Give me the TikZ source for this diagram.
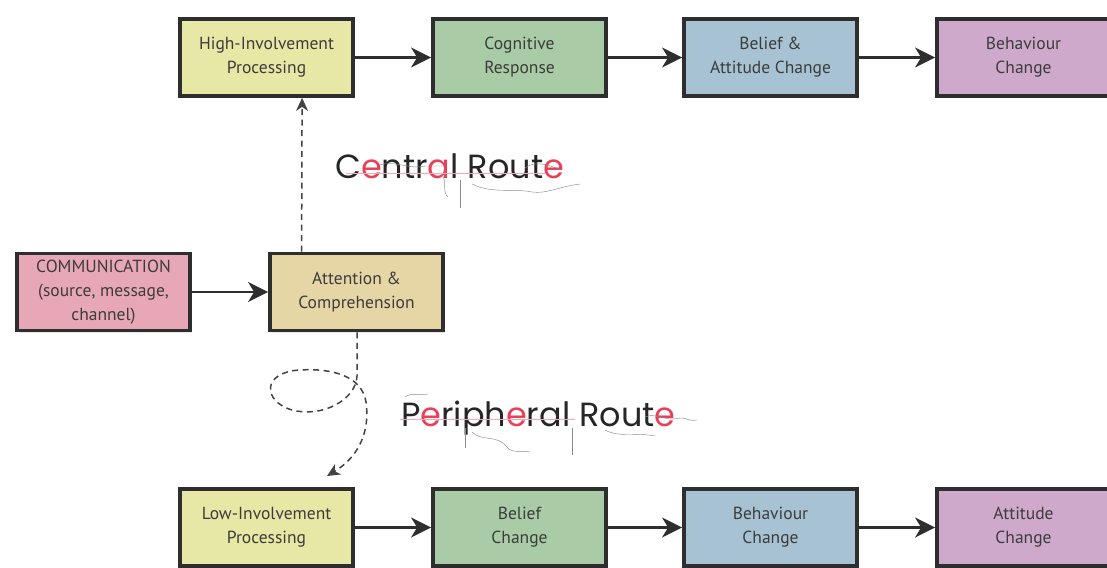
\documentclass[tikz,border=0pt]{standalone}
\usepackage{fontspec}
\setmainfont{PT Sans}
\newfontfamily\routefont{Poppins}
\usetikzlibrary{arrows.meta,shadows}
\definecolor{boxline}{HTML}{2E2E2E}
\definecolor{txt}{HTML}{3C3C3C}
\definecolor{cyellow}{HTML}{E8E8A6}
\definecolor{cgreen}{HTML}{A9CBA6}
\definecolor{cblue}{HTML}{A7C3D3}
\definecolor{cpurple}{HTML}{CEA9CB}
\definecolor{cpink}{HTML}{E8A7B6}
\definecolor{ctan}{HTML}{E6D6A6}
\definecolor{rr}{HTML}{E8405A}
\definecolor{deco}{HTML}{8A8A8A}
\begin{document}
\begin{tikzpicture}[x=1pt,y=-1pt,
  box/.style={draw=boxline, line width=3.8pt, minimum width=173pt, minimum height=77pt,
    align=center, font=\fontsize{17.5}{24}\selectfont, text=txt, inner sep=0pt,
    drop shadow={opacity=0.18, shadow xshift=1.5pt, shadow yshift=-2pt}},
  arr/.style={draw=boxline, line width=2.4pt, -{Stealth[length=20pt 0,width=20pt 0,inset=6pt 0]}},
  darr/.style={draw=boxline!90, line width=1.5pt, dash pattern=on 6pt off 4.5pt,
    -{Stealth[length=13pt 0,width=12pt 0,inset=4pt 0]}},
  route/.style={font=\routefont\fontsize{33.5}{34}\selectfont, text=black!85, inner sep=0pt},
  decoline/.style={draw=deco, line width=0.45pt},
  pinkline/.style={draw=rr!45, line width=0.4pt}
]
\useasboundingbox (0,0) rectangle (1107,567);
% top row
\node[box, fill=cyellow] (hip) at (266.5,57.5) {High-Involvement\\Processing};
\node[box, fill=cgreen]  (cog) at (519.5,57.5) {Cognitive\\Response};
\node[box, fill=cblue]   (bac) at (770.5,57.5) {Belief \&\\Attitude Change};
\node[box, fill=cpurple] (bhc) at (1023.5,57.5) {Behaviour\\Change};
% middle
\node[box, fill=cpink] (com) at (103.5,292) {COMMUNICATION\\(source, message,\\channel)};
\node[box, fill=ctan]  (att) at (356.5,292) {Attention \&\\Comprehension};
% bottom row
\node[box, fill=cyellow] (lip) at (266.5,527.5) {Low-Involvement\\Processing};
\node[box, fill=cgreen]  (blc) at (519.5,527.5) {Belief\\Change};
\node[box, fill=cblue]   (bhv) at (770.5,527.5) {Behaviour\\Change};
\node[box, fill=cpurple] (atc) at (1023.5,527.5) {Attitude\\Change};
% solid arrows
\draw[arr] (hip) -- (cog);
\draw[arr] (cog) -- (bac);
\draw[arr] (bac) -- (bhc);
\draw[arr] (lip) -- (blc);
\draw[arr] (blc) -- (bhv);
\draw[arr] (bhv) -- (atc);
\draw[arr] (com) -- (att);
% dashed routes
\draw[darr] ([xshift=33.5pt]att.north west) -- ([xshift=124pt]hip.south west);
\coordinate (loopend) at (327,476);
\draw[darr] ([xshift=89pt]att.south west) -- (357,376)
  .. controls (356,400) and (322,418) .. (292,410)
  .. controls (262,401) and (262,372) .. (300,370)
  .. controls (332,368) and (362,376) .. (366,402)
  .. controls (370,430) and (360,456) .. (loopend);
% route labels
\node[route, anchor=base west] (central) at (335,178)
  {C\textcolor{rr}{e}ntr\textcolor{rr}{a}l Rout\textcolor{rr}{e}};
\node[route, anchor=base west] (peripheral) at (401,426)
  {P\textcolor{rr}{e}riph\textcolor{rr}{e}ral Rout\textcolor{rr}{e}};
% decorative strokes
\draw[pinkline] (346,173) -- (545,173);
\draw[decoline] (380,165) .. controls (395,160) and (410,170) .. (425,166) -- (445,166);
\draw[decoline] (460,180) -- (460,208);
\draw[decoline] (472,184) .. controls (492,194) and (512,188) .. (532,192) .. controls (547,194) and (557,187) .. (580,184);
\draw[decoline] (525,168) .. controls (535,160) and (550,165) .. (560,170);
\draw[decoline] (442,174) .. controls (447,182) and (442,192) .. (448,197);
\draw[pinkline] (400,419) -- (575,419);
\draw[decoline] (405,397) .. controls (412,392) and (420,396) .. (428,394);
\draw[decoline] (465,428) -- (465,448);
\draw[decoline] (472,432) .. controls (482,442) and (497,434) .. (507,447) .. controls (512,454) and (522,450) .. (530,452);
\draw[decoline] (572,428) -- (572,455);
\draw[decoline] (645,417) .. controls (655,412) and (665,422) .. (680,418) .. controls (685,417) and (690,422) .. (697,420);
\draw[decoline] (605,430) .. controls (620,438) and (635,432) .. (655,436);
\end{tikzpicture}
\end{document}
